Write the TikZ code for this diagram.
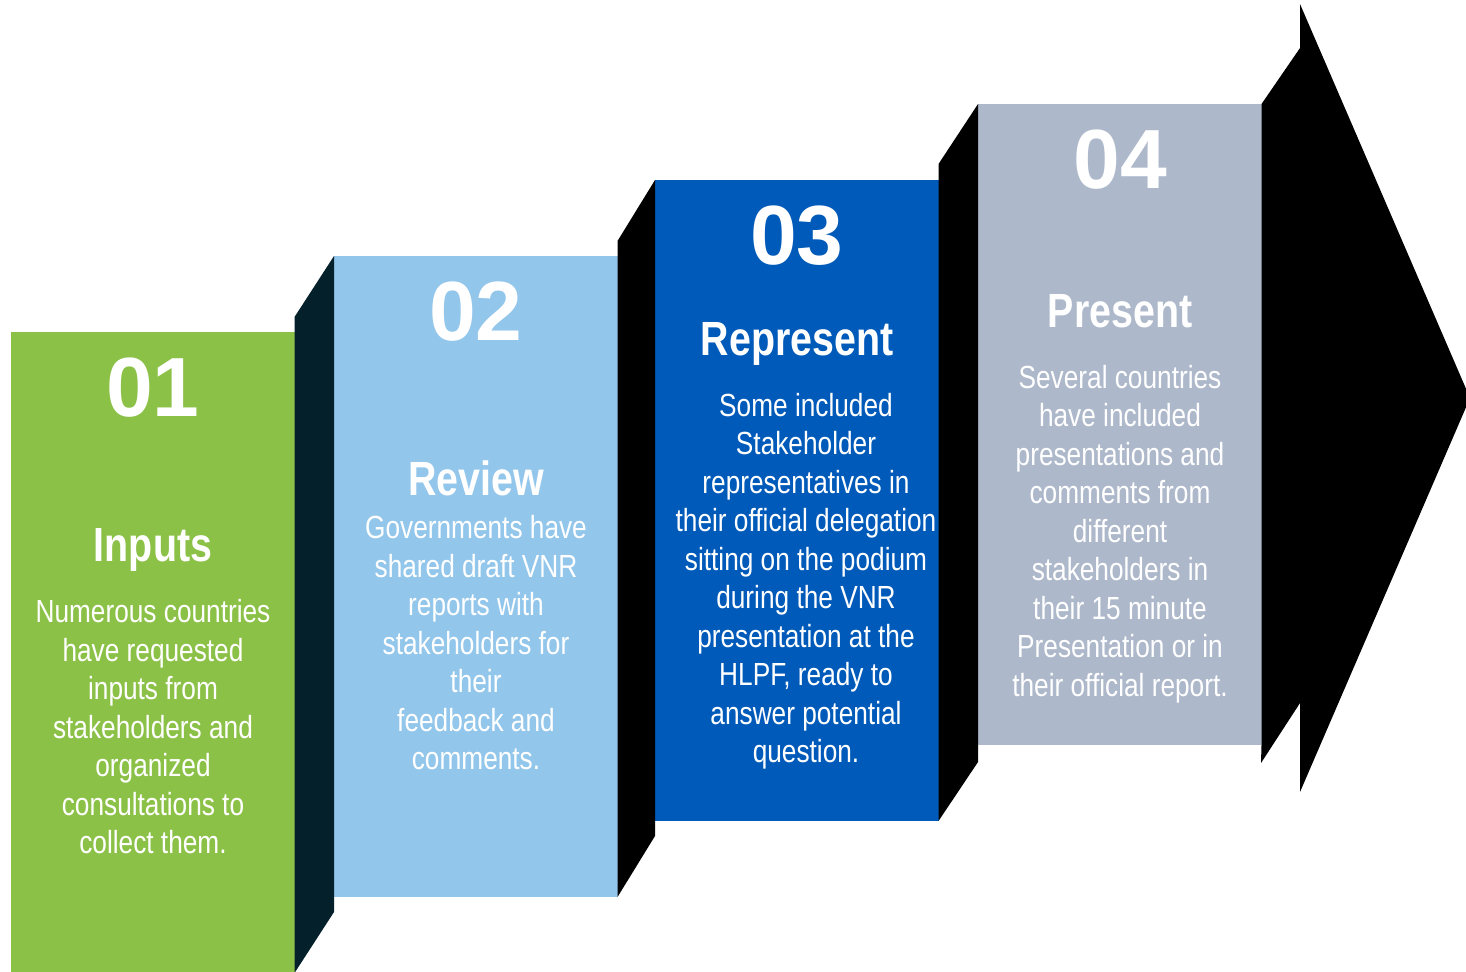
\documentclass[tikz,border=0pt]{standalone}
\usepackage{fontspec}
\setmainfont{Liberation Sans}
\newfontfamily\narrowfont[FakeStretch=0.82]{Liberation Sans}

\definecolor{inputgreen}{RGB}{140,193,72}
\definecolor{reviewblue}{RGB}{147,198,235}
\definecolor{representblue}{RGB}{0,90,185}
\definecolor{presentgray}{RGB}{173,184,203}
\definecolor{darkteal}{RGB}{3,32,43}

\begin{document}
\begin{tikzpicture}[x=0.5pt,y=-0.5pt]
\tikzstyle{panel} = [rectangle, anchor=north west, minimum width=141.75pt, minimum height=320.5pt, inner sep=0pt, outer sep=0pt]
\tikzstyle{num} = [text=white, inner sep=0pt, font=\fontsize{42}{42}\selectfont\bfseries]
\tikzstyle{title} = [text=white, inner sep=0pt, font=\narrowfont\fontsize{24}{24}\selectfont\bfseries]
\tikzstyle{body} = [text=white, align=center, inner sep=0pt, font=\narrowfont\fontsize{16}{19.25}\selectfont]

\useasboundingbox (0,0) rectangle (1466,971);

\node (p1) [panel,fill=inputgreen] at (11,332) {};
\node (p2) [panel,fill=reviewblue] at (334,256) {};
\node (p3) [panel,fill=representblue] at (655,180) {};
\node (p4) [panel,fill=presentgray] at (978,104) {};

\fill [darkteal] ([yshift=7.5pt]p1.north east) -- (p2.north west) -- ([yshift=-7.5pt]p2.south west) -- (p1.south east) -- cycle;
\fill [black] ([yshift=7.5pt]p2.north east) -- (p3.north west) -- ([yshift=-7.5pt]p3.south west) -- (p2.south east) -- cycle;
\fill [black] ([yshift=8pt]p3.north east) -- (p4.north west) -- ([yshift=-8.5pt]p4.south west) -- (p3.south east) -- cycle;
\fill [black] (p4.north east) -- (1300,48) -- (1300,4) -- (1470,398) -- (1300,792) -- (1300,703) -- (1261,763) -- (p4.south east) -- cycle;

\node (n1) [num] at (153,388) {01};
\node (t1) [title] at (153,550) {Inputs};
\node (b1) [body] at (153,727) {Numerous countries\\have requested\\inputs from\\stakeholders and\\organized\\consultations to\\collect them.};

\node (n2) [num] at (476,312) {02};
\node (t2) [title] at (476,478) {Review};
\node (b2) [body] at (476,643) {Governments have\\shared draft VNR\\reports with\\stakeholders for\\their\\feedback and\\comments.};

\node (n3) [num] at (797,236) {03};
\node (t3) [title] at (797,344) {Represent};
\node (b3) [body] at (806,581) {Some included\\Stakeholder\\representatives in\\their official delegation\\sitting on the podium\\during the VNR\\presentation at the\\HLPF, ready to\\answer potential\\question.};

\node (n4) [num] at (1120,160) {04};
\node (t4) [title] at (1120,311) {Present};
\node (b4) [body] at (1120,534) {Several countries\\have included\\presentations and\\comments from\\different\\stakeholders in\\their 15 minute\\Presentation or in\\their official report.};

\end{tikzpicture}
\end{document}
